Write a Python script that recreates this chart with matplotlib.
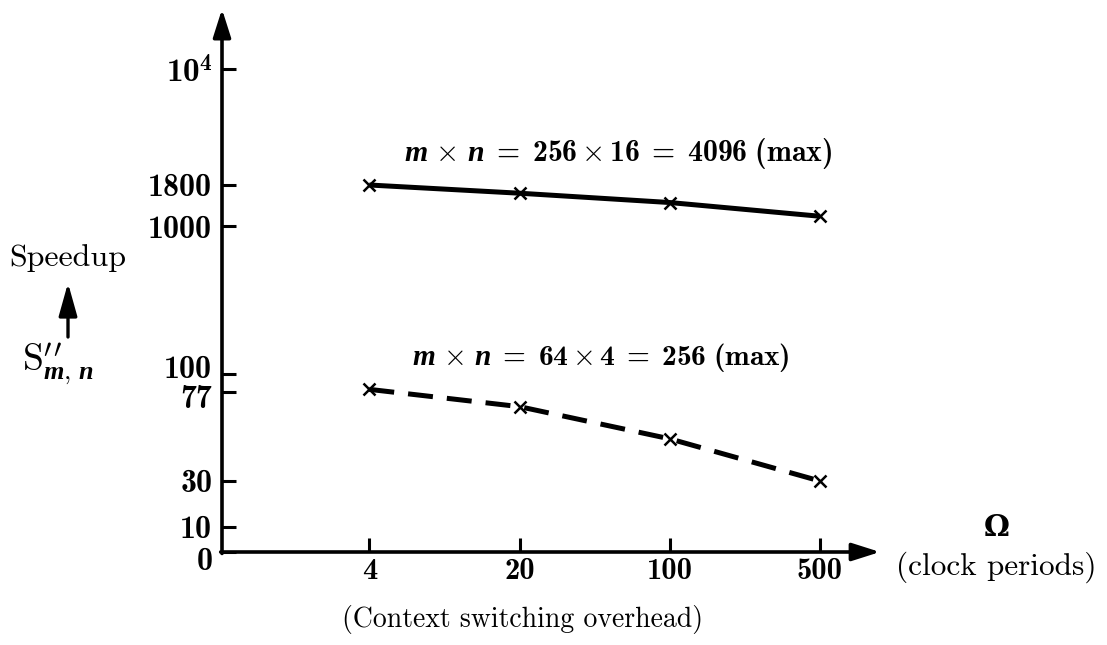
import numpy as np
import matplotlib
matplotlib.use("Agg")
import matplotlib.pyplot as plt
from matplotlib.transforms import ScaledTranslation

plt.rcParams['mathtext.fontset'] = 'custom'
plt.rcParams['mathtext.rm'] = 'cmr10'
plt.rcParams['mathtext.bf'] = 'cmb10'
plt.rcParams['mathtext.it'] = 'Liberation Serif:bold:italic'
plt.rcParams['axes.unicode_minus'] = False

# ---- data ----
overhead = [4, 20, 100, 500]
speedup_4096 = [1800, 1600, 1400, 1150]
speedup_256 = [80, 66, 47, 30]
x_tick_labels = ['4', '20', '100', '500']
y_tick_values = [0, 10, 30, 77, 100, 1000, 1800, 10000]
y_tick_labels = ['0', '10', '30', '77', '100', '1000', '1800', r'$\mathbf{10}^{\mathbf{4}}$']
label_4096 = r'$m\,\times\,n\ \mathbf{=\ 256}\times\mathbf{16\ =\ 4096\ (max)}$'
label_256 = r'$m\,\times\,n\ \mathbf{=\ 64}\times\mathbf{4\ =\ 256\ (max)}$'

# ---- hand-drawn (non-uniform) vertical scale of the original figure ----
_scale_pos = np.array([0, 25, 71, 160, 178, 326, 367, 483], dtype=float)
_scale_log = np.log10(np.array(y_tick_values, dtype=float) + 1)

def fwd(v):
    v = np.clip(np.asarray(v, dtype=float), 0, None)
    return np.interp(np.log10(v + 1), _scale_log, _scale_pos)

def inv(p):
    return 10 ** np.interp(np.asarray(p, dtype=float), _scale_pos, _scale_log) - 1

W, H = 1107, 645
fig = plt.figure(figsize=(W / 100, H / 100), dpi=100)
ax = fig.add_axes([222 / W, (H - 552) / H, (880 - 222) / W, (552 - 69) / H])
ax.set_yscale('function', functions=(fwd, inv))
ax.set_xscale('log')
ax.set_xlim(0.825, 952)
ax.set_ylim(0, 10000)

ax.plot(overhead, speedup_4096, color='black', lw=3.6, solid_capstyle='butt', zorder=3)
ax.plot(overhead, speedup_256, color='black', lw=3.6, ls=(0, (5.0, 2.8)),
        dash_capstyle='butt', zorder=3)
ax.plot(overhead, speedup_4096, ls='none', marker='x', ms=9, mew=1.8, color='black', zorder=4)
ax.plot(overhead, speedup_256, ls='none', marker='x', ms=9, mew=1.8, color='black', zorder=4)

for s in ['top', 'right', 'bottom', 'left']:
    ax.spines[s].set_visible(False)

ax.set_xticks(overhead)
ax.set_xticklabels(x_tick_labels, fontfamily='cmb10', fontsize=22)
ax.xaxis.set_minor_locator(matplotlib.ticker.NullLocator())
ax.set_yticks(y_tick_values)
ax.set_yticklabels(y_tick_labels, fontfamily='cmb10', fontsize=23)
ax.yaxis.set_minor_locator(matplotlib.ticker.NullLocator())
ax.tick_params(axis='both', direction='in', length=10, width=2.2, color='black')
ax.tick_params(axis='x', pad=4)
ax.tick_params(axis='y', pad=7)

# the original prints some labels slightly off their ticks
def shift(lbl, dy_px):
    lbl.set_transform(lbl.get_transform() + ScaledTranslation(0, dy_px / 100, fig.dpi_scale_trans))

ylabels = ax.get_yticklabels()
shift(ylabels[0], -6)
shift(ylabels[1], 1)
shift(ylabels[3], -5)
shift(ylabels[4], 8)
ylabels[7].set_fontsize(24)

# axes with arrowheads
arrow_kw = dict(arrowstyle='-|>,head_length=0.85,head_width=0.27', lw=2.6, color='black',
                shrinkA=0, shrinkB=0, mutation_scale=20)
ax.annotate('', xy=(1.0, 0), xytext=(-0.002, 0), xycoords='axes fraction',
            arrowprops=arrow_kw, annotation_clip=False)
ax.annotate('', xy=(0, 1.124), xytext=(0, -0.003), xycoords='axes fraction',
            arrowprops=arrow_kw, annotation_clip=False)

def ftext(x, y, s, **kw):
    fig.text(x / W, 1 - y / H, s, **kw)

ftext(404, 153, label_4096, fontsize=21.5, ha='left', va='center')
ftext(412, 357, label_256, fontsize=21.2, ha='left', va='center')

ftext(68, 258, 'Speedup', fontfamily='cmr10', fontsize=23, ha='center', va='center')
fig.add_artist(matplotlib.patches.FancyArrowPatch(
    (68 / W, 1 - 337 / H), (68 / W, 1 - 283 / H), transform=fig.transFigure,
    arrowstyle='-|>,head_length=1.0,head_width=0.28', lw=2.4, color='black',
    mutation_scale=20, shrinkA=0, shrinkB=0))
ftext(58, 364, r'$\mathrm{S}^{\prime\,\prime}_{m,\,n}$', fontsize=27, ha='center', va='center')

ftext(997, 528, 'Ω', fontfamily='DejaVu Serif', fontweight='bold', fontsize=21,
      ha='center', va='center')
ftext(996, 567, '(clock periods)', fontfamily='cmr10', fontsize=22.5, ha='center', va='center')
ftext(523, 620, '(Context switching overhead)', fontfamily='cmr10', fontsize=20,
      ha='center', va='center')

fig.savefig('out.png', dpi=100, facecolor='white')
